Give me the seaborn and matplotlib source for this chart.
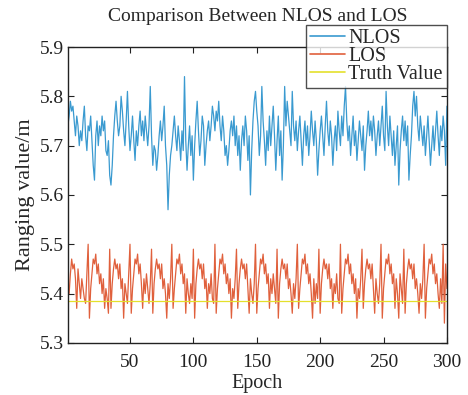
import numpy as np
import pandas as pd
import matplotlib
matplotlib.use("Agg")
import matplotlib.pyplot as plt
import seaborn as sns

# 数据
epoch = list(range(1, 301))

nlos = [
    5.74, 5.76, 5.79, 5.77, 5.78, 5.75, 5.72, 5.76, 5.74, 5.70, 5.73, 5.71, 5.75, 5.78, 5.72, 5.69, 5.74, 5.73, 5.76, 5.71,
    5.66, 5.63, 5.72, 5.75, 5.70, 5.74, 5.72, 5.76, 5.73, 5.75, 5.69, 5.68, 5.71, 5.64, 5.62, 5.66, 5.72, 5.76, 5.79, 5.75,
    5.72, 5.74, 5.80, 5.77, 5.73, 5.70, 5.75, 5.81, 5.74, 5.69, 5.72, 5.76, 5.71, 5.67, 5.73, 5.70, 5.74, 5.77, 5.72, 5.75,
    5.71, 5.76, 5.73, 5.70, 5.74, 5.82, 5.72, 5.66, 5.70, 5.69, 5.65, 5.68, 5.72, 5.75, 5.71, 5.74, 5.78, 5.70, 5.66, 5.57,
    5.64, 5.68, 5.70, 5.73, 5.76, 5.72, 5.69, 5.74, 5.71, 5.67, 5.73, 5.69, 5.84, 5.71, 5.65, 5.70, 5.74, 5.68, 5.72, 5.63,
    5.70, 5.75, 5.79, 5.73, 5.68, 5.71, 5.76, 5.74, 5.66, 5.70, 5.73, 5.75, 5.71, 5.74, 5.78, 5.76, 5.73, 5.77, 5.75, 5.79,
    5.74, 5.71, 5.76, 5.73, 5.68, 5.70, 5.66, 5.69, 5.73, 5.75, 5.72, 5.76, 5.70, 5.74, 5.68, 5.72, 5.65, 5.71, 5.74, 5.70,
    5.76, 5.73, 5.67, 5.72, 5.60, 5.69, 5.75, 5.79, 5.81, 5.77, 5.74, 5.68, 5.72, 5.82, 5.75, 5.71, 5.66, 5.73, 5.69, 5.76,
    5.70, 5.74, 5.78, 5.72, 5.65, 5.71, 5.76, 5.68, 5.73, 5.63, 5.70, 5.82, 5.74, 5.79, 5.76, 5.73, 5.70, 5.81, 5.74, 5.71,
    5.75, 5.69, 5.73, 5.76, 5.71, 5.66, 5.72, 5.75, 5.70, 5.74, 5.68, 5.72, 5.77, 5.73, 5.70, 5.75, 5.71, 5.64, 5.69, 5.73,
    5.76, 5.72, 5.68, 5.74, 5.79, 5.73, 5.70, 5.75, 5.72, 5.66, 5.71, 5.74, 5.69, 5.77, 5.73, 5.70, 5.76, 5.72, 5.78, 5.82,
    5.75, 5.71, 5.74, 5.68, 5.72, 5.76, 5.70, 5.73, 5.67, 5.71, 5.75, 5.72, 5.69, 5.74, 5.65, 5.70, 5.73, 5.77, 5.72, 5.75,
    5.71, 5.76, 5.73, 5.68, 5.72, 5.75, 5.70, 5.74, 5.78, 5.72, 5.69, 5.81, 5.74, 5.70, 5.76, 5.72, 5.68, 5.73, 5.66, 5.70,
    5.74, 5.62, 5.69, 5.73, 5.76, 5.71, 5.75, 5.70, 5.74, 5.63, 5.68, 5.72, 5.78, 5.81, 5.76, 5.80, 5.74, 5.71, 5.76, 5.73,
    5.70, 5.74, 5.68, 5.72, 5.76, 5.71, 5.66, 5.70, 5.74, 5.69, 5.73, 5.77, 5.72, 5.68, 5.74, 5.71, 5.76, 5.73, 5.66, 5.78,
]

los = [
    5.42, 5.40, 5.44, 5.47, 5.45, 5.46, 5.43, 5.37, 5.45, 5.42, 5.39, 5.43, 5.41, 5.39, 5.38, 5.44, 5.50, 5.35, 5.41, 5.44,
    5.47, 5.46, 5.48, 5.44, 5.46, 5.42, 5.44, 5.40, 5.43, 5.37, 5.41, 5.39, 5.36, 5.49, 5.37, 5.42, 5.45, 5.47, 5.45, 5.46,
    5.43, 5.46, 5.41, 5.43, 5.35, 5.42, 5.40, 5.38, 5.44, 5.50, 5.36, 5.41, 5.44, 5.47, 5.46, 5.48, 5.44, 5.46, 5.42, 5.37,
    5.43, 5.40, 5.44, 5.41, 5.38, 5.42, 5.49, 5.36, 5.42, 5.45, 5.47, 5.45, 5.46, 5.43, 5.46, 5.41, 5.43, 5.40, 5.35, 5.42,
    5.39, 5.43, 5.50, 5.37, 5.41, 5.44, 5.47, 5.46, 5.48, 5.44, 5.46, 5.42, 5.44, 5.36, 5.43, 5.40, 5.38, 5.42, 5.39, 5.49,
    5.35, 5.42, 5.45, 5.47, 5.45, 5.46, 5.43, 5.46, 5.41, 5.43, 5.37, 5.42, 5.40, 5.44, 5.39, 5.38, 5.50, 5.36, 5.41, 5.44,
    5.47, 5.46, 5.48, 5.44, 5.46, 5.42, 5.44, 5.40, 5.43, 5.35, 5.41, 5.39, 5.43, 5.49, 5.37, 5.42, 5.45, 5.47, 5.45, 5.46,
    5.43, 5.46, 5.41, 5.36, 5.43, 5.40, 5.38, 5.42, 5.50, 5.36, 5.41, 5.44, 5.47, 5.46, 5.48, 5.44, 5.46, 5.42, 5.44, 5.37,
    5.43, 5.40, 5.44, 5.41, 5.38, 5.49, 5.35, 5.42, 5.45, 5.47, 5.45, 5.46, 5.43, 5.46, 5.41, 5.43, 5.40, 5.36, 5.42, 5.39,
    5.43, 5.50, 5.37, 5.41, 5.44, 5.47, 5.46, 5.48, 5.44, 5.46, 5.42, 5.44, 5.40, 5.35, 5.43, 5.38, 5.42, 5.39, 5.49, 5.36,
    5.42, 5.45, 5.47, 5.45, 5.46, 5.43, 5.46, 5.41, 5.43, 5.37, 5.42, 5.40, 5.44, 5.39, 5.38, 5.50, 5.36, 5.41, 5.44, 5.47,
    5.46, 5.48, 5.44, 5.46, 5.42, 5.44, 5.40, 5.43, 5.35, 5.41, 5.39, 5.43, 5.49, 5.37, 5.42, 5.45, 5.47, 5.45, 5.46, 5.43,
    5.46, 5.41, 5.36, 5.43, 5.40, 5.38, 5.42, 5.50, 5.35, 5.41, 5.44, 5.47, 5.46, 5.48, 5.44, 5.46, 5.42, 5.44, 5.37, 5.43,
    5.40, 5.35, 5.44, 5.41, 5.38, 5.49, 5.36, 5.42, 5.45, 5.47, 5.45, 5.46, 5.43, 5.46, 5.41, 5.43, 5.40, 5.36, 5.42, 5.39,
    5.43, 5.50, 5.35, 5.41, 5.44, 5.47, 5.46, 5.48, 5.44, 5.46, 5.42, 5.44, 5.40, 5.37, 5.43, 5.38, 5.50, 5.34, 5.46, 5.41,
]

truth_value = 5.385

series_names = ["NLOS", "LOS", "Truth Value"]
series_colors = ["#3a9ad0", "#e0603c", "#e4e02c"]

xticks = [50, 100, 150, 200, 250, 300]
yticks = [5.3, 5.4, 5.5, 5.6, 5.7, 5.8, 5.9]

# 长表
df = pd.concat([
    pd.DataFrame({"Epoch": epoch, "value": nlos, "series": "NLOS"}),
    pd.DataFrame({"Epoch": epoch, "value": los, "series": "LOS"}),
    pd.DataFrame({"Epoch": epoch, "value": truth_value, "series": "Truth Value"}),
])

sns.set_style("ticks")
plt.rcParams["font.family"] = ["Liberation Serif", "DejaVu Serif"]

fig = plt.figure(figsize=(4.68, 3.95), dpi=100)
ax = fig.add_axes([0.145, 0.132, 0.81, 0.749])

sns.lineplot(data=df, x="Epoch", y="value", hue="series", hue_order=series_names,
             palette=dict(zip(series_names, series_colors)), linewidth=0.9,
             estimator=None, ax=ax)

ax.set_xlim(1, 300)
ax.set_ylim(5.3, 5.9)
ax.set_xticks(xticks)
ax.set_yticks(yticks)
ax.set_yticklabels([f"{v:.1f}" for v in yticks])
ax.tick_params(axis="both", direction="in", length=4, width=0.8, labelsize=14,
               top=True, right=True, colors="#222222", labelcolor="#222222")
ax.tick_params(axis="x", pad=8)
ax.tick_params(axis="y", pad=3)
for s in ax.spines.values():
    s.set_linewidth(1.0)
    s.set_color("#222222")

ax.set_xlabel("Epoch", fontsize=14.5, labelpad=2)
ax.set_ylabel("Ranging value/m", fontsize=16, labelpad=3)
ax.set_title("Comparison Between NLOS and LOS", fontsize=14, pad=19)

leg = ax.legend(loc="upper right", bbox_to_anchor=(0.955, 0.937),
                bbox_transform=fig.transFigure, fontsize=14.5, frameon=True,
                fancybox=False, borderpad=0.2, labelspacing=-0.05,
                handlelength=1.75, handletextpad=0.15, borderaxespad=0)
leg.get_frame().set_edgecolor("#222222")
leg.get_frame().set_linewidth(1.0)
for line in leg.get_lines():
    line.set_linewidth(1.2)

fig.savefig("out.png", dpi=100)
